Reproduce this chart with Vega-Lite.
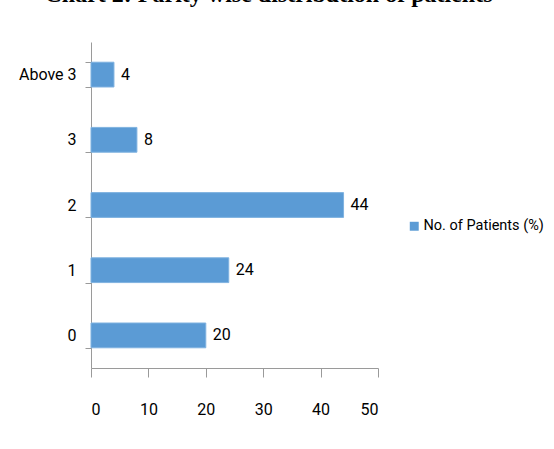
{
  "$schema": "https://vega.github.io/schema/vega-lite/v6.json",
  "autosize": {"type": "none"},
  "width": 287,
  "height": 326,
  "padding": {"left": 91, "top": 42, "right": 176, "bottom": 81},
  "background": "white",
  "title": {
    "text": "Chart 2: Parity wise distribution of patients",
    "font": "Liberation Serif",
    "fontWeight": "bold",
    "fontSize": 24,
    "color": "#000000",
    "anchor": "middle",
    "frame": "group",
    "baseline": "alphabetic",
    "offset": 30,
    "dx": 34,
    "dy": 22
  },
  "data": {
    "values": [
      {"parity": "Above 3", "value": 4, "series": "No. of Patients (%)"},
      {"parity": "3", "value": 8, "series": "No. of Patients (%)"},
      {"parity": "2", "value": 44, "series": "No. of Patients (%)"},
      {"parity": "1", "value": 24, "series": "No. of Patients (%)"},
      {"parity": "0", "value": 20, "series": "No. of Patients (%)"}
    ]
  },
  "encoding": {
    "y": {
      "field": "parity",
      "type": "nominal",
      "sort": ["Above 3", "3", "2", "1", "0"],
      "scale": {"paddingInner": 0.62, "paddingOuter": 0.31},
      "axis": {
        "title": null,
        "domainColor": "#9a9a9a",
        "tickColor": "#9a9a9a",
        "tickBand": "extent",
        "tickSize": 6,
        "labelPadding": 9,
        "labelFont": "Roboto",
        "labelFontSize": 16,
        "labelColor": "#000000",
        "grid": false
      }
    },
    "x": {
      "field": "value",
      "type": "quantitative",
      "scale": {"domain": [0, 50], "nice": false},
      "axis": {
        "title": null,
        "values": [0, 10, 20, 30, 40, 50],
        "domainColor": "#9a9a9a",
        "tickColor": "#9a9a9a",
        "tickSize": 9,
        "labelPadding": 24,
        "labelFont": "Roboto",
        "labelFontSize": 16,
        "labelColor": "#000000",
        "grid": false
      }
    }
  },
  "layer": [
    {
      "mark": {"type": "bar", "stroke": "#7fb2e0", "strokeWidth": 1},
      "encoding": {
        "color": {
          "field": "series",
          "type": "nominal",
          "scale": {"range": ["#5b9bd5"]},
          "legend": {
            "title": null,
            "orient": "none",
            "legendX": 316,
            "legendY": 177,
            "symbolType": "square",
            "symbolSize": 80,
            "symbolStrokeWidth": 0,
            "labelFont": "Roboto",
            "labelFontSize": 14.5,
            "labelLimit": 300,
            "labelColor": "#000000",
            "labelOffset": 2
          }
        }
      }
    },
    {
      "mark": {
        "type": "text",
        "align": "left",
        "baseline": "middle",
        "dx": 7,
        "font": "Roboto",
        "fontSize": 16,
        "color": "#000000"
      },
      "encoding": {"text": {"field": "value", "type": "quantitative"}}
    }
  ],
  "config": {"view": {"stroke": null}}
}
